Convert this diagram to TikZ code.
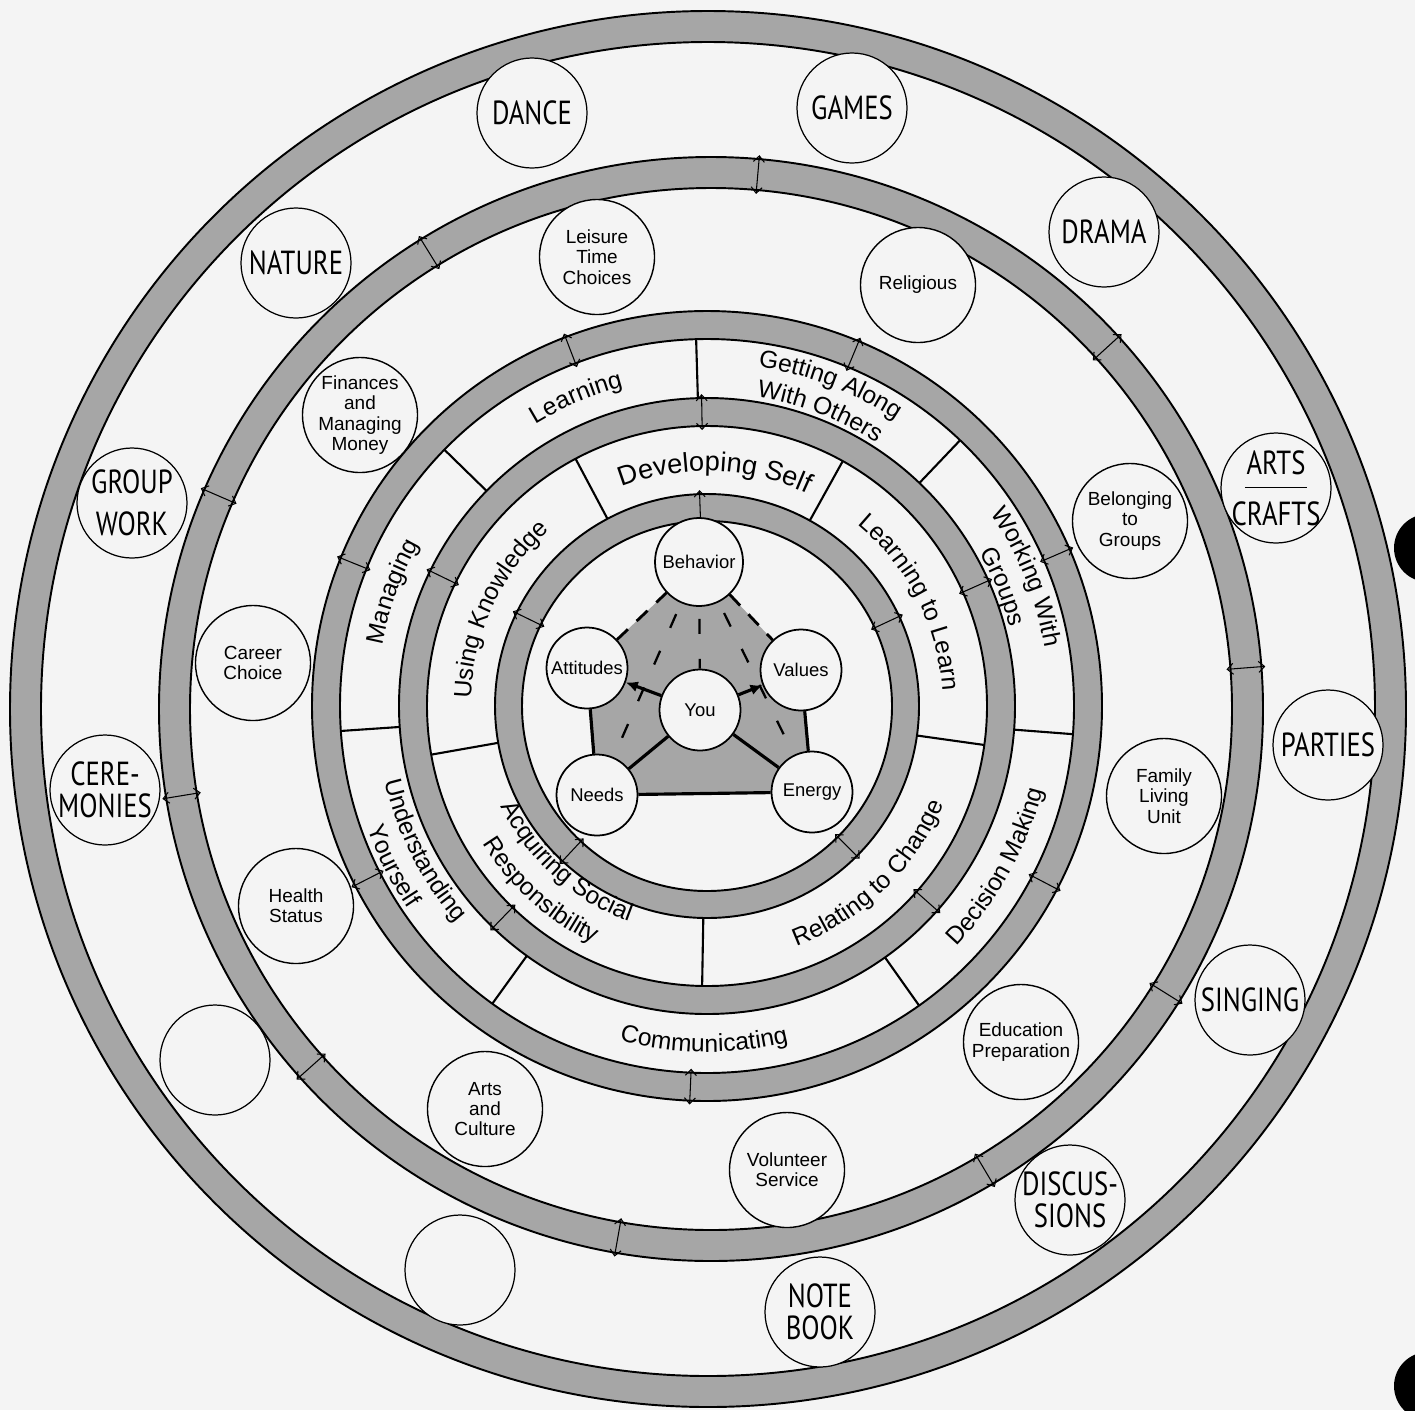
\documentclass[tikz,border=0pt]{standalone}
\usepackage{fontspec}
\setmainfont{Liberation Sans}
\newfontfamily\handfont{PT Sans}[FakeStretch=0.8]
\usetikzlibrary{arrows.meta, decorations.text}

\definecolor{paper}{gray}{0.955}
\definecolor{tone}{gray}{0.65}

\newcommand\typedfont{\fontsize{10.8}{11.6}\selectfont}
\newcommand\corefont{\fontsize{10.5}{11}\selectfont}
\newcommand\segfont{\fontsize{14}{15}\selectfont}
\newcommand\bigsegfont{\fontsize{15.5}{16}\selectfont}
\newcommand\handtext{\handfont\fontsize{19}{18}\selectfont}

\begin{document}
\begin{tikzpicture}[
    x=0.2mm, y=0.2mm,
    band/.style={fill=tone, even odd rule},
    rim/.style={line width=1.1pt},
    divider/.style={line width=1.2pt},
    flow/.style={<->, >={Straight Barb[length=1.2mm, width=2.2mm]}, line width=0.6pt},
    topic/.style={circle, draw, line width=0.8pt, fill=paper, minimum size=23mm, inner sep=0pt, align=center, font=\typedfont},
    pastime/.style={circle, draw, line width=0.7pt, fill=paper, minimum size=22mm, inner sep=0pt},
    hand/.style={font=\handtext, align=center, inner sep=0pt},
    core/.style={circle, draw, line width=1pt, fill=paper, minimum size=16.2mm, inner sep=0pt, font=\corefont},
    link/.style={line width=1.8pt},
    brokenlink/.style={line width=1.6pt, dash pattern=on 3mm off 2.4mm},
    spoke/.style={line width=1.3pt, dash pattern=on 3mm off 5mm, dash phase=5.6mm},
    curved/.style={decorate, decoration={text along path, text align=center, text={#1}}}
]
    \useasboundingbox (0,0) rectangle (1415,-1410);
    \fill[paper] (0,0) rectangle (1415,-1410);

    \begin{scope}[shift={(708,-709)}]
        \fill[band] (0,0) circle[radius=698] (0,0) circle[radius=667];
        \draw[rim] (0,0) circle[radius=698] (0,0) circle[radius=667];
    \end{scope}

    \begin{scope}[shift={(711,-709)}]
        \fill[band] (0,0) circle[radius=552] (0,0) circle[radius=521];
        \draw[rim] (0,0) circle[radius=552] (0,0) circle[radius=521];
        \foreach \a in {85,121.7,156.6,189.3,221.8,260,300.7,328,4.4,42.4}
            \draw[flow] (\a:517) -- (\a:556);
    \end{scope}

    \begin{scope}[shift={(707,-706)}]
        \fill[band] (0,0) circle[radius=395] (0,0) circle[radius=367];
        \fill[band] (0,0) circle[radius=308] (0,0) circle[radius=280];
        \fill[band] (0,0) circle[radius=212] (0,0) circle[radius=185];
        \draw[rim] (0,0) circle[radius=395] (0,0) circle[radius=367];
        \draw[rim] (0,0) circle[radius=308] (0,0) circle[radius=280];
        \draw[rim] (0,0) circle[radius=212] (0,0) circle[radius=185];

        \foreach \a in {118,61,-8,-91,190}
            \draw[divider] (\a:212) -- (\a:280);
        \foreach \a in {91.7,46.4,-4.4,-54.7,234.2,183.9,135.7}
            \draw[divider] (\a:308) -- (\a:367);

        \foreach \a in {92,25,-45,227,154}
            \draw[flow] (\a:181) -- (\a:216);
        \foreach \a in {91,24,-41.6,226,154}
            \draw[flow] (\a:276) -- (\a:312);
        \foreach \a in {111,67.4,23.4,-27.6,-92.5,207,158}
            \draw[flow] (\a:363) -- (\a:399);

        \path[curved={|\bigsegfont|Developing Self}] (138:235) arc[start angle=138, end angle=38, radius=235];
        \path[curved={|\segfont|Learning to Learn}] (77:236) arc[start angle=77, end angle=-23, radius=236];
        \path[curved={|\segfont|Using Knowledge}] (205:236) arc[start angle=205, end angle=105, radius=236];
        \path[curved={|\segfont|Relating to Change}] (-96:256) arc[start angle=-96, end angle=4, radius=256];
        \path[curved={|\segfont|Acquiring Social}] (178:229) arc[start angle=178, end angle=278, radius=229];
        \path[curved={|\segfont|Responsibility}] (178:263) arc[start angle=178, end angle=278, radius=263];

        \path[curved={|\segfont|Learning}] (163:330) arc[start angle=163, end angle=63, radius=330];
        \path[curved={|\segfont|Getting Along}] (119:343) arc[start angle=119, end angle=19, radius=343];
        \path[curved={|\segfont|With Others}] (119:313) arc[start angle=119, end angle=19, radius=313];
        \path[curved={|\segfont|Working With}] (72:343) arc[start angle=72, end angle=-28, radius=343];
        \path[curved={|\segfont|Groups}] (72:313) arc[start angle=72, end angle=-28, radius=313];
        \path[curved={|\segfont|Managing}] (210:330) arc[start angle=210, end angle=110, radius=330];
        \path[curved={|\segfont|Decision Making}] (-79:346) arc[start angle=-79, end angle=21, radius=346];
        \path[curved={|\segfont|Communicating}] (-140.5:346) arc[start angle=-140.5, end angle=-40.5, radius=346];
        \path[curved={|\segfont|Understanding}] (157:331) arc[start angle=157, end angle=257, radius=331];
        \path[curved={|\segfont|Yourself}] (157:361) arc[start angle=157, end angle=257, radius=361];
    \end{scope}

    \coordinate (pbeh) at (699,-562);
    \coordinate (patt) at (587,-668);
    \coordinate (pval) at (801,-670);
    \coordinate (pnee) at (597,-795);
    \coordinate (pene) at (812,-792);
    \fill[tone] (pbeh) -- (pval) -- (pene) -- (pnee) -- (patt) -- cycle;

    \node[core, minimum size=17.6mm] (beh) at (pbeh) {Behavior};
    \node[core] (att) at (patt) {Attitudes};
    \node[core] (val) at (pval) {Values};
    \node[core] (nee) at (pnee) {Needs};
    \node[core] (ene) at (pene) {Energy};
    \node[core] (you) at (700,-710) {You};

    \draw[brokenlink] (att) -- (beh);
    \draw[brokenlink] (beh) -- (val);
    \draw[link] (val) -- (ene);
    \draw[link] (ene) -- (nee);
    \draw[link] (nee) -- (att);
    \draw[link] (you) -- (nee);
    \draw[link] (you) -- (ene);
    \draw[link, -{Latex[length=2.4mm, width=2.2mm]}] (you) -- (att);
    \draw[link, -{Latex[length=2.4mm, width=2.2mm]}] (you) -- (val);
    \draw[spoke] (beh) -- (you);
    \draw[spoke] (beh) -- (nee);
    \draw[spoke] (beh) -- (ene);

    \node[topic] (leisure) at (597,-257) {Leisure\\Time\\Choices};
    \node[topic] (religious) at (918,-285) {Religious};
    \node[topic] (finances) at (360,-415) {Finances\\and\\Managing\\Money};
    \node[topic] (belonging) at (1130,-521) {Belonging\\to\\Groups};
    \node[topic] (career) at (253,-663) {Career\\Choice};
    \node[topic] (family) at (1164,-796) {Family\\Living\\Unit};
    \node[topic] (health) at (296,-906) {Health\\Status};
    \node[topic] (education) at (1021,-1042) {Education\\Preparation};
    \node[topic] (artsculture) at (485,-1109) {Arts\\and\\Culture};
    \node[topic] (volunteer) at (787,-1170) {Volunteer\\Service};

    \node[pastime, label={[hand]center:DANCE}] (dance) at (532,-113) {};
    \node[pastime, label={[hand]center:GAMES}] (games) at (852,-108) {};
    \node[pastime, label={[hand]center:NATURE}] (nature) at (296,-263) {};
    \node[pastime, label={[hand]center:DRAMA}] (drama) at (1104,-232) {};
    \node[pastime, label={[hand]center:GROUP\\[6pt]WORK}] (groupwork) at (132,-503) {};
    \node[pastime, label={[hand]center:ARTS\\[-10pt]\rule{12.5mm}{0.7pt}\\[3pt]CRAFTS}] (artscrafts) at (1276,-488) {};
    \node[pastime, label={[hand]center:PARTIES}] (parties) at (1328,-745) {};
    \node[pastime, label={[hand]center:CERE-\\MONIES}] (ceremonies) at (105,-790) {};
    \node[pastime, label={[hand]center:SINGING}] (singing) at (1250,-1000) {};
    \node[pastime] (blankleft) at (215,-1060) {};
    \node[pastime, label={[hand]center:DISCUS-\\SIONS}] (discussions) at (1070,-1200) {};
    \node[pastime] (blankbottom) at (460,-1270) {};
    \node[pastime, label={[hand]center:NOTE\\BOOK}] (notebook) at (820,-1312) {};

    \fill (1428,-548) circle[radius=34];
    \fill (1428,-1386) circle[radius=34];
\end{tikzpicture}
\end{document}
